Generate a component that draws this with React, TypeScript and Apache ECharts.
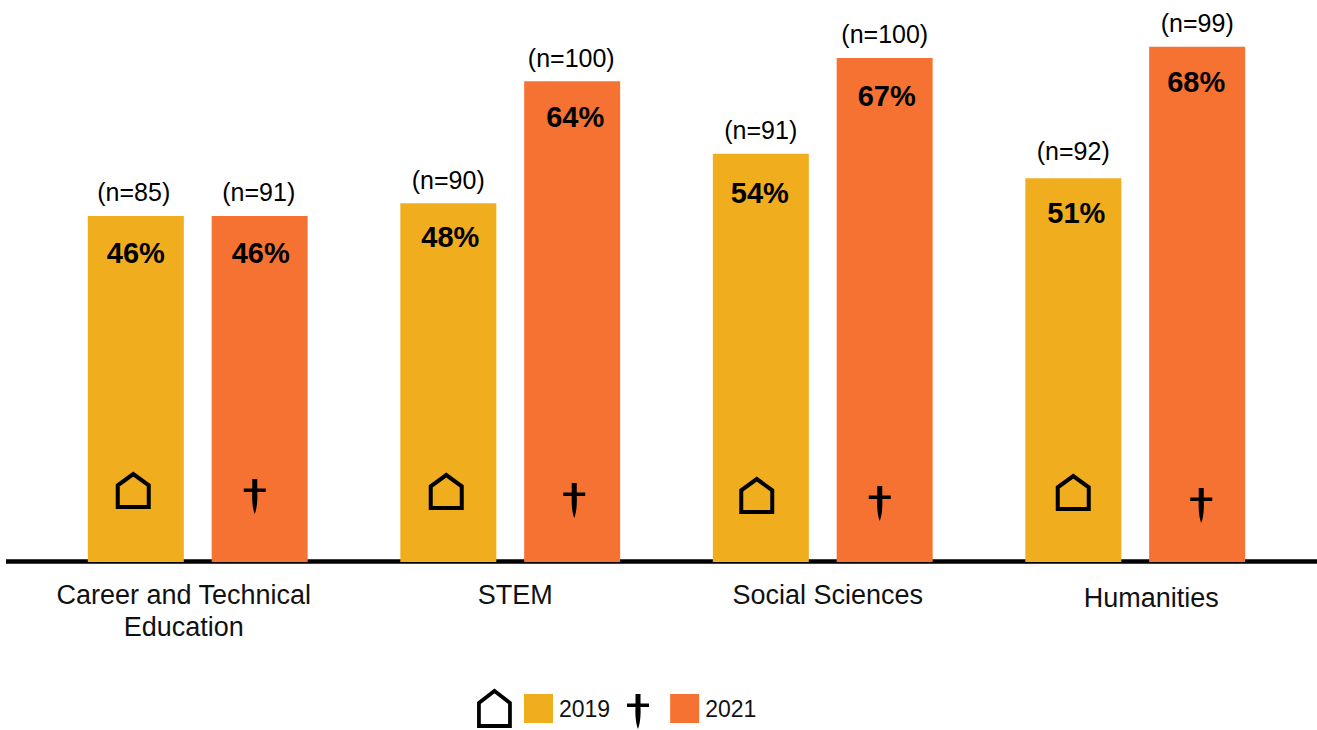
import React, { useEffect, useRef } from "react";
import * as echarts from "echarts";

const categories = ["Career and Technical\nEducation", "STEM", "Social Sciences", "Humanities"];
const years = ["2019", "2021"];
const values2019 = [46, 47.7, 54.25, 51];
const values2021 = [46, 63.9, 67, 68.49];
const pct2019 = ["46%", "48%", "54%", "51%"];
const pct2021 = ["46%", "64%", "67%", "68%"];
const n2019 = ["(n=85)", "(n=90)", "(n=91)", "(n=92)"];
const n2021 = ["(n=91)", "(n=100)", "(n=100)", "(n=99)"];

const YELLOW = "#F0AD1E";
const ORANGE = "#F67233";
const FONT = '"Liberation Sans", Arial, sans-serif';

// hand placement of the annotations, relative to each bar
const houseDx = [-2.5, -2, -4, 0];
const houseTop = [472.5, 473.5, 477.5, 474.5];
const daggerDx = [-5, 2, -5, 4];
const daggerTop = [479, 483, 486, 488];
const nDx2019 = [-2, 0, 0, 0];
const nDy2019 = [0, 0, 0, -4];
const nDx2021 = [-1, -1, 0, 0];
const nDy2021 = [0, 0, 0, 0];
const pctOffset2019 = [[0, 1], [2, -3], [-1, 3], [3, -2]];
const pctOffset2021 = [[1, 1], [3, -1], [2, 1.5], [-1, -1]];

const HOUSE = "M1 36 L1 13 L17.5 1 L34 13 L34 36 Z";
const DAGGER = "M9.5 0 L14.5 0 L14.5 9.5 L23 9.5 L23 13 L14.5 13 C15 22 14 30 12 35 C10 30 9 22 9.5 13 L1 13 L1 9.5 L9.5 9.5 Z";

echarts.graphic.registerShape("houseIcon", echarts.graphic.extendPath(HOUSE, {}) as any);
echarts.graphic.registerShape("daggerIcon", echarts.graphic.extendPath(DAGGER, {}) as any);

const BAR_W = 96;
const BAR_OFFSET = 62;

function annotate(sign: number, labels: string[], ndx: number[], ndy: number[], dx: number[], top: number[], icon: "house" | "dagger") {
  return (params: any, api: any) => {
    const i = api.value(0);
    const [cx, y] = api.coord([i, api.value(1)]);
    const x = cx + sign * BAR_OFFSET;
    const ix = x + dx[i];
    const iconEl =
      icon === "house"
        ? {
            type: "path",
            shape: { pathData: HOUSE, x: ix - 15.5, y: top[i], width: 31, height: 36 },
            style: { fill: "none", stroke: "#000", lineWidth: 4 },
          }
        : {
            type: "path",
            shape: { pathData: DAGGER, x: ix - 11.5, y: top[i], width: 23, height: 35 },
            style: { fill: "#000" },
          };
    return {
      type: "group",
      children: [
        {
          type: "text",
          style: {
            x: x + ndx[i],
            y: y - 11 + ndy[i],
            text: labels[i],
            fill: "#000",
            font: `25px ${FONT}`,
            textAlign: "center",
            textVerticalAlign: "bottom",
          },
        },
        iconEl,
      ],
    };
  };
}

export default function App() {
  const ref = useRef<HTMLDivElement>(null);
  useEffect(() => {
    document.body.style.margin = "0";
    const chart = echarts.init(ref.current!, undefined, { renderer: "svg" });
    const bar = (name: string, data: number[], color: string, labels: string[], offs: number[][]) => ({
      name,
      type: "bar",
      data: data.map((v, i) => ({ value: v, label: { offset: offs[i] } })),
      barWidth: BAR_W,
      barGap: "29%",
      itemStyle: { color },
      z: 3,
      label: {
        show: true,
        position: "insideTop",
        distance: 22,
        formatter: (p: any) => labels[p.dataIndex],
        color: "#000",
        fontFamily: FONT,
        fontWeight: "bold",
        fontSize: 29,
      },
    });
    chart.setOption({
      animation: false,
      backgroundColor: "#fff",
      textStyle: { fontFamily: FONT },
      grid: { left: 41.5, width: 1250, top: 0, bottom: 168 },
      legend: {
        data: years,
        left: 524,
        top: 694,
        padding: 0,
        itemWidth: 29,
        itemHeight: 29,
        itemGap: 60,
        icon: "rect",
        textStyle: { fontSize: 23, color: "#111", fontFamily: FONT, padding: [0, 0, 0, 1] },
      },
      xAxis: {
        type: "category",
        data: [
          { value: categories[0], textStyle: { padding: [0, 28, 0, 0] } },
          { value: categories[1], textStyle: { padding: [0, 0, 0, 10] } },
          { value: categories[2], textStyle: { padding: [0, 0, 0, 10] } },
          { value: categories[3], textStyle: { padding: [3, 0, 0, 32] } },
        ],
        axisTick: { show: false },
        axisLine: { show: false },
        axisLabel: { interval: 0, fontSize: 27, color: "#111", margin: 17, lineHeight: 32, fontFamily: FONT },
      },
      yAxis: { type: "value", min: 0, max: 74.7, show: false, splitLine: { show: false } },
      series: [
        bar("2019", values2019, YELLOW, pct2019, pctOffset2019),
        bar("2021", values2021, ORANGE, pct2021, pctOffset2021),
        {
          name: "n2019",
          type: "custom",
          z: 5,
          data: values2019.map((v, i) => [i, v]),
          encode: { x: 0, y: 1 },
          renderItem: annotate(-1, n2019, nDx2019, nDy2019, houseDx, houseTop, "house"),
        },
        {
          name: "n2021",
          type: "custom",
          z: 5,
          data: values2021.map((v, i) => [i, v]),
          encode: { x: 0, y: 1 },
          renderItem: annotate(1, n2021, nDx2021, nDy2021, daggerDx, daggerTop, "dagger"),
        },
      ],
      graphic: [
        { type: "line", z: 2, shape: { x1: 6, y1: 561.5, x2: 1317, y2: 561.5 }, style: { stroke: "#000", lineWidth: 4.5 } },
        { type: "houseIcon", x: 478, y: 690, scaleX: 0.94, scaleY: 1, style: { fill: "none", stroke: "#000", lineWidth: 4 } },
        { type: "daggerIcon", x: 626, y: 694, style: { fill: "#000" } },
      ],
    });
    return () => chart.dispose();
  }, []);
  return <div ref={ref} style={{ width: 1317, height: 730 }} />;
}
